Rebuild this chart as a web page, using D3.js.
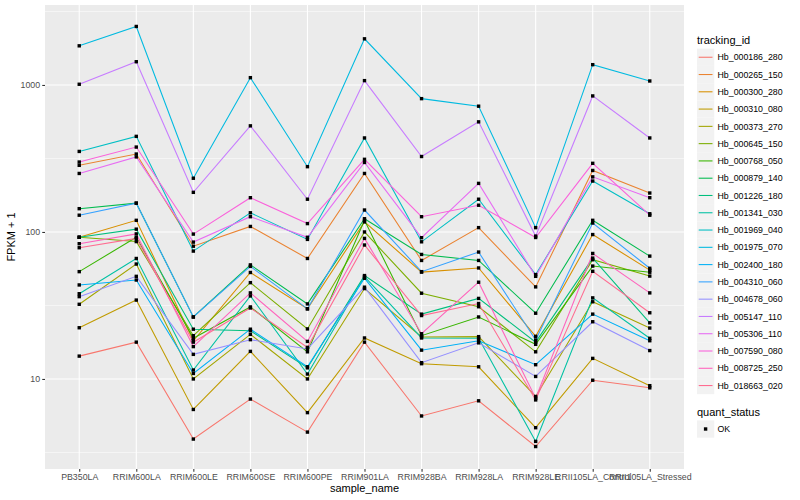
<!DOCTYPE html>
<html lang="en">
<head>
<meta charset="UTF-8">
<title>FPKM by sample</title>
<script src="https://d3js.org/d3.v7.min.js"></script>
<style>
    body { margin: 0; background: #ffffff; font-family: "Liberation Sans", Arial, sans-serif; }
    .tick-label { font-size: 8.8px; fill: #4d4d4d; }
    .axis-title { font-size: 11px; fill: #000; }
    .legend-title { font-size: 11px; fill: #000; }
    .legend-label { font-size: 8.8px; fill: #000; }
</style>
</head>
<body>
<svg width="800" height="500"></svg>
<script>
// sample names on the x axis
let samples = ["PB350LA", "RRIM600LA", "RRIM600LE", "RRIM600SE", "RRIM600PE", "RRIM901LA",
    "RRIM928BA", "RRIM928LA", "RRIM928LE", "RRII105LA_Control", "RRII105LA_Stressed"];

let trackingIds = ["Hb_000186_280", "Hb_000265_150", "Hb_000300_280", "Hb_000310_080", "Hb_000373_270",
    "Hb_000645_150", "Hb_000768_050", "Hb_000879_140", "Hb_001226_180", "Hb_001341_030",
    "Hb_001969_040", "Hb_001975_070", "Hb_002400_180", "Hb_004310_060", "Hb_004678_060",
    "Hb_005147_110", "Hb_005306_110", "Hb_007590_080", "Hb_008725_250", "Hb_018663_020"];

// FPKM + 1, one row per tracking id, one value per sample
let fpkm = [
    [14.3, 17.8, 3.9, 7.3, 4.35, 17.8, 5.6, 7.1, 3.47, 9.8, 8.7],
    [284, 339, 80, 109, 66, 250, 64, 107, 42.3, 262, 184],
    [92, 120, 18.2, 53, 30, 117, 53.3, 56.9, 19.5, 96, 55],
    [22.3, 34.4, 6.2, 15.4, 5.9, 19.0, 12.7, 12.1, 4.66, 13.8, 9.0],
    [32.2, 60.5, 10, 20.1, 10, 41.2, 19.3, 19.4, 7.6, 33.5, 22.2],
    [92, 86, 19.7, 45.2, 21.9, 100, 38.3, 31, 15.3, 64.7, 50.1],
    [53.7, 92, 18.9, 30.9, 15.3, 120, 19.7, 26.4, 17.2, 58.6, 53.2],
    [144, 157, 26.4, 59.7, 32.4, 123, 70.3, 64, 28.0, 120, 68.5],
    [92, 104.5, 21.8, 21.3, 11.9, 50.5, 27.6, 35.3, 17.8, 66.4, 24.1],
    [38, 66, 11.5, 36.7, 10.8, 49.7, 19.0, 18.9, 3.76, 35.6, 18.9],
    [353, 447, 74.1, 135, 89, 436, 85.7, 167, 51.3, 222, 133],
    [1846, 2500, 232, 1121, 278, 2060, 807, 717, 107, 1374, 1064],
    [43.6, 47.1, 10.9, 21.8, 12.1, 48.4, 15.7, 18.2, 12.5, 27.6, 18.2],
    [130, 157, 26.4, 58.3, 30, 141, 53.7, 73, 18.4, 115, 56.6],
    [36.3, 49.9, 14.7, 18.5, 16.0, 42.1, 12.9, 17.6, 10.4, 24.5, 15.6],
    [1011, 1439, 186, 527, 167, 1070, 326, 561, 93.7, 842, 436],
    [250, 324, 85.3, 127, 92, 297, 91.4, 214, 49.9, 237, 171],
    [299, 378, 96.7, 171, 114, 312, 127, 152, 91.7, 293, 130],
    [83.2, 97, 16.6, 38.5, 18.0, 90.4, 20.3, 45.5, 7.4, 71.4, 38.5],
    [78.1, 90.4, 17.8, 30.4, 16.4, 81.5, 27.0, 32.6, 7.2, 54.0, 28.2]
];

let majorTicks = [10, 100, 1000];
let minorTicks = [3.162, 31.62, 316.2, 3162];
let statusLevels = ["OK"];

let svg = d3.select("svg");
let panel = { left: 45, right: 684, top: 5, bottom: 469 };

let x = d3.scalePoint()
    .domain(samples)
    .range([panel.left, panel.right])
    .padding(0.6);

let y = d3.scaleLog()
    .domain([2.44, 3499])
    .range([panel.bottom, panel.top]);

let color = d3.scaleOrdinal()
    .domain(trackingIds)
    .range(["#F8766D", "#EA8331", "#D89000", "#C09B00", "#A3A500", "#7CAE00", "#39B600",
        "#00BB4E", "#00BF7D", "#00C1A3", "#00BFC4", "#00BAE0", "#00B0F6", "#35A2FF",
        "#9590FF", "#C77CFF", "#E76BF3", "#FA62DB", "#FF62BC", "#FF6C91"]);

// panel background + grid
svg.append("rect")
    .attr("x", panel.left).attr("y", panel.top)
    .attr("width", panel.right - panel.left).attr("height", panel.bottom - panel.top)
    .attr("fill", "#ebebeb");

let grid = svg.append("g");
grid.selectAll("line.minor").data(minorTicks).enter().append("line")
    .attr("x1", panel.left).attr("x2", panel.right)
    .attr("y1", d => y(d)).attr("y2", d => y(d))
    .attr("stroke", "#fff").attr("stroke-width", 0.53);
grid.selectAll("line.major").data(majorTicks).enter().append("line")
    .attr("x1", panel.left).attr("x2", panel.right)
    .attr("y1", d => y(d)).attr("y2", d => y(d))
    .attr("stroke", "#fff").attr("stroke-width", 1.07);
grid.selectAll("line.vx").data(samples).enter().append("line")
    .attr("x1", d => x(d)).attr("x2", d => x(d))
    .attr("y1", panel.top).attr("y2", panel.bottom)
    .attr("stroke", "#fff").attr("stroke-width", 1.07);

// lines
let series = trackingIds.map((id, i) => ({ id: id, values: fpkm[i].map((v, j) => ({ s: samples[j], v: v })) }));

let line = d3.line().x(d => x(d.s)).y(d => y(d.v));

svg.append("g").selectAll("path").data(series).enter().append("path")
    .attr("d", d => line(d.values))
    .attr("fill", "none")
    .attr("stroke", d => color(d.id))
    .attr("stroke-width", 1.07);

// points (quant_status = OK, square shape)
let pts = series.flatMap(d => d.values);
svg.append("g").selectAll("rect").data(pts).enter().append("rect")
    .attr("x", d => x(d.s) - 1.7).attr("y", d => y(d.v) - 1.7)
    .attr("width", 3.4).attr("height", 3.4)
    .attr("fill", "#000");

// y axis
let yAxis = svg.append("g").attr("transform", `translate(${panel.left},0)`)
    .call(d3.axisLeft(y).tickValues(majorTicks).tickFormat(d3.format("d")).tickSize(2.75).tickPadding(2.2));
yAxis.select(".domain").remove();
yAxis.selectAll(".tick line").attr("stroke", "#333").attr("stroke-width", 1.07);
yAxis.selectAll(".tick text").attr("class", "tick-label").attr("font-family", null).attr("font-size", null);

// x axis (the last two labels overlap, as in the original)
let xAxis = svg.append("g").attr("transform", `translate(0,${panel.bottom})`)
    .call(d3.axisBottom(x).tickSize(2.75).tickPadding(2.2));
xAxis.select(".domain").remove();
xAxis.selectAll(".tick line").attr("stroke", "#333").attr("stroke-width", 1.07);
xAxis.selectAll(".tick text").attr("class", "tick-label").attr("font-family", null).attr("font-size", null);

svg.append("text").attr("class", "axis-title")
    .attr("x", (panel.left + panel.right) / 2).attr("y", 492)
    .attr("text-anchor", "middle").text("sample_name");
svg.append("text").attr("class", "axis-title")
    .attr("transform", `translate(15,${(panel.top + panel.bottom) / 2}) rotate(-90)`)
    .attr("text-anchor", "middle").text("FPKM + 1");

// legend: tracking_id
let lg = svg.append("g").attr("transform", "translate(697,0)");
lg.append("text").attr("class", "legend-title").attr("x", 0).attr("y", 44).text("tracking_id");
let rows = lg.selectAll("g.row").data(trackingIds).enter().append("g")
    .attr("transform", (d, i) => `translate(0,${48.6 + i * 17.28})`);
rows.append("rect").attr("width", 17.28).attr("height", 17.28).attr("fill", "#f2f2f2");
rows.append("line").attr("x1", 1.7).attr("x2", 15.5).attr("y1", 8.64).attr("y2", 8.64)
    .attr("stroke", d => color(d)).attr("stroke-width", 1.07);
rows.append("text").attr("class", "legend-label").attr("x", 20.5).attr("y", 11.8).text(d => d);

// legend: quant_status
let lq = svg.append("g").attr("transform", "translate(697,0)");
lq.append("text").attr("class", "legend-title").attr("x", 0).attr("y", 416).text("quant_status");
let qrows = lq.selectAll("g.row").data(statusLevels).enter().append("g")
    .attr("transform", (d, i) => `translate(0,${420.4 + i * 17.28})`);
qrows.append("rect").attr("width", 17.28).attr("height", 17.28).attr("fill", "#f2f2f2");
qrows.append("rect").attr("x", 6.9).attr("y", 6.9).attr("width", 3.4).attr("height", 3.4).attr("fill", "#000");
qrows.append("text").attr("class", "legend-label").attr("x", 20.5).attr("y", 11.8).text(d => d);
</script>
</body>
</html>
